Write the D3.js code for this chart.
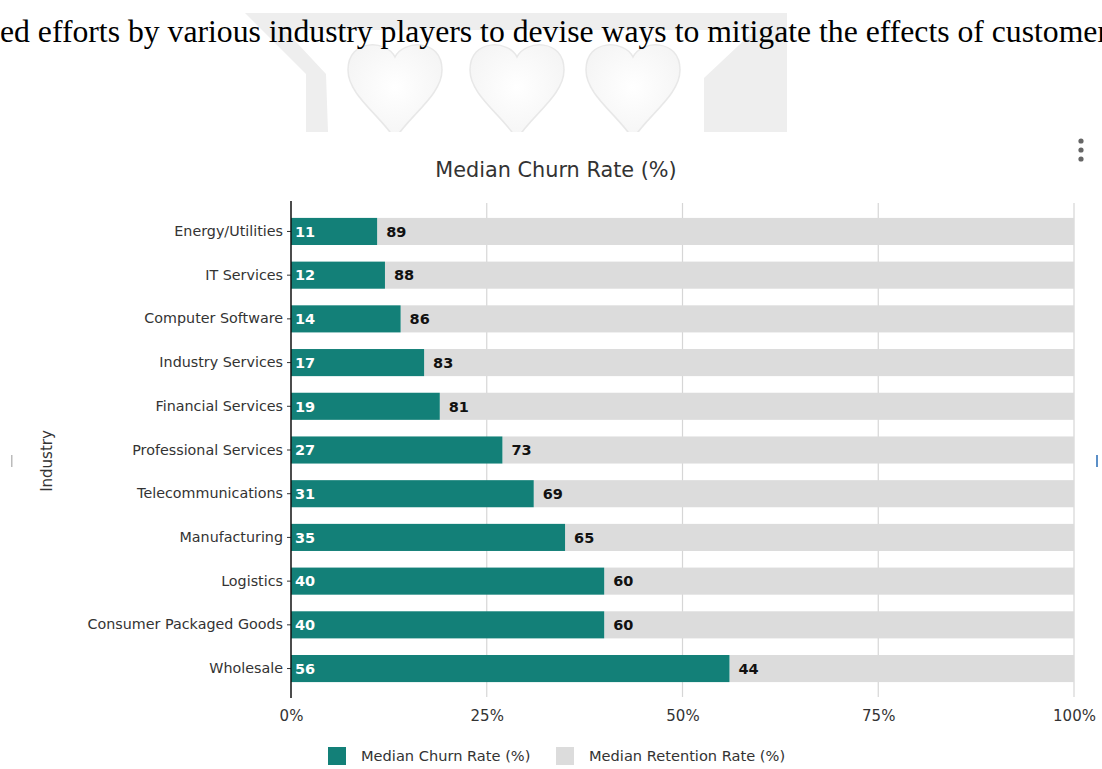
<!DOCTYPE html>
<html><head><meta charset="utf-8">
<script src="https://cdn.jsdelivr.net/npm/d3@7"></script>
<style>html,body{margin:0;padding:0;background:#fff;overflow:hidden}</style>
</head><body>
<svg id="c" width="1102" height="769"></svg>
<script>
const categories = ["Energy/Utilities","IT Services","Computer Software","Industry Services","Financial Services","Professional Services","Telecommunications","Manufacturing","Logistics","Consumer Packaged Goods","Wholesale"];
const churn = [11,12,14,17,19,27,31,35,40,40,56];
const retention = [89,88,86,83,81,73,69,65,60,60,44];
const tickValues = [0,25,50,75,100];
const tickLabels = ["0%","25%","50%","75%","100%"];
const seriesNames = ["Median Churn Rate (%)","Median Retention Rate (%)"];
const title = "Median Churn Rate (%)";
const axisTitle = "Industry";
const headerText = "ed efforts by various industry players to devise ways to mitigate the effects of customer";

const teal = "#138078", grey = "#dcdcdc";
const font = "Tahoma, 'DejaVu Sans', Verdana, sans-serif";
const svg = d3.select("#c");

// faint watermark (background decoration of the source page)
const defs = svg.append("defs");
const hg = defs.append("radialGradient").attr("id","hg").attr("cx","50%").attr("cy","45%").attr("r","60%");
hg.append("stop").attr("offset","0%").attr("stop-color","#ffffff");
hg.append("stop").attr("offset","100%").attr("stop-color","#f4f4f4");
const wm = svg.append("g");
wm.append("path").attr("d","M245,13 L787,13 L787,132 L704,132 L704,78 L755,30 L285,30 L326,74 L328,132 L306,132 L306,74 Z").attr("fill","#eeeeee");
[395,517,633].forEach(cx=>{
  wm.append("path").attr("d",`M${cx},57 C${cx-8},40 ${cx-47},38 ${cx-47},70 C${cx-47},95 ${cx-15},115 ${cx},139 C${cx+15},115 ${cx+47},95 ${cx+47},70 C${cx+47},38 ${cx+8},40 ${cx},57 Z`)
    .attr("fill","url(#hg)").attr("stroke","#e8e8e8").attr("stroke-width",1.5);
});
svg.append("rect").attr("x",0).attr("y",132).attr("width",1102).attr("height",637).attr("fill","#fff");

// header text
svg.append("text").attr("x",0).attr("y",42).attr("font-family","'Liberation Serif','Times New Roman',serif")
  .attr("font-size",32.5).attr("fill","#000").attr("textLength",1108).attr("lengthAdjust","spacingAndGlyphs").text(headerText);

const x = d3.scaleLinear().domain([0,100]).range([291,1074]);
const y = d3.scaleBand().domain(categories).range([209.6,690.4]).paddingInner(0.38).paddingOuter(0.19);

// grid
svg.append("g").selectAll("line").data(tickValues.filter(v=>v>0)).join("line")
  .attr("x1",d=>x(d)).attr("x2",d=>x(d)).attr("y1",203).attr("y2",697)
  .attr("stroke","#d6d6d6").attr("stroke-width",1.2);

// bars
const rows = categories.map((c,i)=>({c,ch:churn[i],re:retention[i]}));
svg.append("g").selectAll("rect.r").data(rows).join("rect")
  .attr("x",d=>x(d.ch)).attr("width",d=>x(d.ch+d.re)-x(d.ch))
  .attr("y",d=>y(d.c)).attr("height",y.bandwidth()).attr("fill",grey);
svg.append("g").selectAll("rect.c").data(rows).join("rect")
  .attr("x",x(0)).attr("width",d=>x(d.ch)-x(0))
  .attr("y",d=>y(d.c)).attr("height",y.bandwidth()).attr("fill",teal);

// value labels
svg.append("g").selectAll("text").data(rows).join("text")
  .attr("x",x(0)+4).attr("y",d=>y(d.c)+y.bandwidth()/2).attr("dy","0.36em")
  .attr("font-family",font).attr("font-weight","bold").attr("font-size",14.5).attr("fill","#fff").text(d=>d.ch);
svg.append("g").selectAll("text").data(rows).join("text")
  .attr("x",d=>x(d.ch)+9).attr("y",d=>y(d.c)+y.bandwidth()/2).attr("dy","0.36em")
  .attr("font-family",font).attr("font-weight","bold").attr("font-size",14.5).attr("fill","#111").text(d=>d.re);

// y axis
const ya = svg.append("g").attr("transform",`translate(${x(0)},0)`).call(d3.axisLeft(y).tickSize(4).tickPadding(4));
ya.select(".domain").remove();
ya.selectAll("line").attr("stroke","#333");
ya.selectAll("text").attr("font-family",font).attr("font-size",14.3).attr("fill","#333");
svg.append("line").attr("x1",x(0)).attr("x2",x(0)).attr("y1",201).attr("y2",698).attr("stroke","#111").attr("stroke-width",1.5);

// x axis labels
const xa = svg.append("g").attr("transform","translate(0,697)").call(d3.axisBottom(x).tickValues(tickValues).tickFormat((d,i)=>tickLabels[i]).tickSize(0).tickPadding(13));
xa.select(".domain").remove();
xa.selectAll("text").attr("font-family",font).attr("font-size",15).attr("fill","#333");

// title
svg.append("text").attr("x",556).attr("y",177).attr("text-anchor","middle").attr("font-family",font)
  .attr("font-size",20.8).attr("fill","#333").text(title);

// y axis title
svg.append("text").attr("transform","translate(52,461) rotate(-90)").attr("text-anchor","middle")
  .attr("font-family",font).attr("font-size",15).attr("fill","#333").text(axisTitle);

// legend
const lg = svg.append("g");
const lx = [328,556];
seriesNames.forEach((n,i)=>{
  lg.append("rect").attr("x",lx[i]).attr("y",747).attr("width",18).attr("height",18).attr("fill",i?grey:teal);
  lg.append("text").attr("x",lx[i]+33).attr("y",756).attr("dy","0.36em").attr("font-family",font)
    .attr("font-size",14.6).attr("fill","#333").text(n);
});

// menu dots
[141,150,159].forEach(cy=>svg.append("circle").attr("cx",1081).attr("cy",cy).attr("r",2.6).attr("fill","#666"));
// side marks
svg.append("rect").attr("x",11).attr("y",455).attr("width",1.5).attr("height",12).attr("fill","#bbb");
svg.append("rect").attr("x",1096).attr("y",455).attr("width",2).attr("height",12).attr("fill","#5b8fc7");
</script>
</body></html>
